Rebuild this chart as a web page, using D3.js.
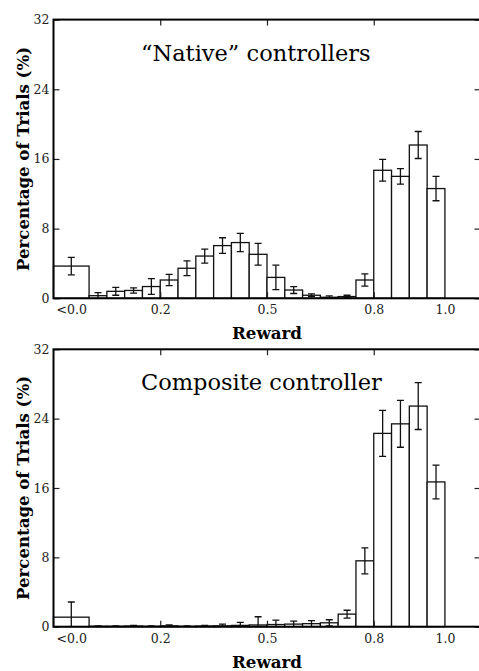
<!DOCTYPE html>
<html>
<head>
<meta charset="utf-8">
<script src="https://cdn.jsdelivr.net/npm/d3@7"></script>
<style>
  body { margin: 0; background: #fff; }
  svg { display: block; }
</style>
</head>
<body>
<div id="vis"></div>
<script>
const FRAME_WIDTH = 479;
const FRAME_HEIGHT = 671;
const SERIF = "DejaVu Serif";

// bins of the reward histogram (lower and upper edge), first bin is the "<0.0" bucket
const BIN_LO = [-0.1, 0.00, 0.05, 0.10, 0.15, 0.20, 0.25, 0.30, 0.35, 0.40, 0.45,
                0.50, 0.55, 0.60, 0.65, 0.70, 0.75, 0.80, 0.85, 0.90, 0.95];
const BIN_HI = [0.00, 0.05, 0.10, 0.15, 0.20, 0.25, 0.30, 0.35, 0.40, 0.45, 0.50,
                0.55, 0.60, 0.65, 0.70, 0.75, 0.80, 0.85, 0.90, 0.95, 1.00];

// "Native" controllers (percentage of trials and error)
const NATIVE_PCT = [3.7, 0.3, 0.8, 0.9, 1.35, 2.1, 3.45, 4.85, 6.05, 6.4, 5.05,
                    2.4, 0.95, 0.35, 0.12, 0.2, 2.1, 14.7, 14.0, 17.6, 12.6];
const NATIVE_ERR = [1.0, 0.35, 0.45, 0.3, 0.9, 0.65, 0.85, 0.8, 0.9, 1.05, 1.25,
                    1.4, 0.4, 0.15, 0.15, 0.15, 0.7, 1.25, 0.9, 1.55, 1.4];

// Composite controller
const COMPOSITE_PCT = [1.1, 0.05, 0.05, 0.08, 0.05, 0.1, 0.05, 0.08, 0.1, 0.15, 0.2,
                       0.25, 0.3, 0.35, 0.45, 1.45, 7.6, 22.3, 23.4, 25.45, 16.7];
const COMPOSITE_ERR = [1.75, 0.05, 0.05, 0.08, 0.05, 0.1, 0.05, 0.08, 0.2, 0.35, 0.95,
                       0.5, 0.35, 0.35, 0.35, 0.45, 1.5, 2.65, 2.7, 2.7, 1.95];

const X_LABEL_POS = [-0.05, 0.2, 0.5, 0.8, 1.0];
const X_LABELS = ["<0.0", "0.2", "0.5", "0.8", "1.0"];
const X_TICKS = [0.2, 0.5, 0.8];
const Y_TICKS = [0, 8, 16, 24, 32];

const MARGINS = {left: 53.5, right: 480.5};

const FRAME = d3.select("#vis")
                .append("svg")
                  .attr("width", FRAME_WIDTH)
                  .attr("height", FRAME_HEIGHT);

const X_SCALE = d3.scaleLinear()
                  .domain([-0.1, 1.1])
                  .range([MARGINS.left, MARGINS.right]);

function drawPanel(id, top, bottom, pct, err, title, titleY) {
  const data = BIN_LO.map((lo, i) => ({lo: lo, hi: BIN_HI[i], pct: pct[i], err: err[i]}));

  const Y_SCALE = d3.scaleLinear()
                    .domain([0, 32])
                    .range([bottom, top]);

  FRAME.append("clipPath")
      .attr("id", "clip-" + id)
    .append("rect")
      .attr("x", MARGINS.left)
      .attr("y", top)
      .attr("width", MARGINS.right - MARGINS.left)
      .attr("height", bottom - top);

  const g = FRAME.append("g").attr("font-family", SERIF);

  // bars
  g.selectAll("rect.bar")
      .data(data)
      .enter()
      .append("rect")
        .attr("class", "bar")
        .attr("x", d => X_SCALE(d.lo))
        .attr("y", d => Y_SCALE(d.pct))
        .attr("width", d => X_SCALE(d.hi) - X_SCALE(d.lo))
        .attr("height", d => Y_SCALE(0) - Y_SCALE(d.pct))
        .attr("fill", "white")
        .attr("stroke", "#111")
        .attr("stroke-width", 1.3);

  // error bars
  const eb = g.append("g")
      .attr("clip-path", "url(#clip-" + id + ")")
      .attr("stroke", "#111")
      .attr("stroke-width", 1.3);

  data.forEach(d => {
    const cx = X_SCALE((d.lo + d.hi) / 2);
    const y1 = Y_SCALE(d.pct + d.err);
    const y0 = Y_SCALE(d.pct - d.err);
    eb.append("line").attr("x1", cx).attr("x2", cx).attr("y1", y1).attr("y2", y0);
    eb.append("line").attr("x1", cx - 3.5).attr("x2", cx + 3.5).attr("y1", y1).attr("y2", y1);
    eb.append("line").attr("x1", cx - 3.5).attr("x2", cx + 3.5).attr("y1", y0).attr("y2", y0);
  });

  // y axis, ticks pointing inward
  g.append("g")
      .attr("transform", "translate(" + MARGINS.left + ",0)")
      .call(d3.axisLeft(Y_SCALE).tickValues(Y_TICKS).tickSize(-6).tickSizeOuter(0).tickPadding(4))
      .attr("font-size", 12.5)
      .attr("font-family", SERIF)
      .call(a => a.select(".domain").remove());

  g.append("g")
      .attr("transform", "translate(" + MARGINS.right + ",0)")
      .call(d3.axisRight(Y_SCALE).tickValues(Y_TICKS).tickSize(-6).tickSizeOuter(0).tickFormat(""))
      .call(a => a.select(".domain").remove());

  // x axis labels and inward ticks
  g.append("g")
      .attr("transform", "translate(0," + bottom + ")")
      .call(d3.axisBottom(X_SCALE).tickValues(X_LABEL_POS).tickSize(0).tickPadding(7)
              .tickFormat((d, i) => X_LABELS[i]))
      .attr("font-size", 12.5)
      .attr("font-family", SERIF)
      .call(a => a.select(".domain").remove());

  g.append("g")
      .attr("transform", "translate(0," + bottom + ")")
      .call(d3.axisBottom(X_SCALE).tickValues(X_TICKS).tickSize(-6).tickFormat(""))
      .call(a => a.select(".domain").remove());

  g.append("g")
      .attr("transform", "translate(0," + top + ")")
      .call(d3.axisTop(X_SCALE).tickValues(X_TICKS).tickSize(-6).tickFormat(""))
      .call(a => a.select(".domain").remove());

  g.selectAll(".tick text").attr("fill", "#222");
  g.selectAll(".tick line").attr("stroke", "#222").attr("stroke-width", 1.2);

  // frame (right side falls just outside the picture)
  g.append("rect")
      .attr("x", MARGINS.left)
      .attr("y", top)
      .attr("width", MARGINS.right - MARGINS.left)
      .attr("height", bottom - top)
      .attr("fill", "none")
      .attr("stroke", "#000")
      .attr("stroke-width", 2);

  // title inside the plot
  g.append("text")
      .attr("x", 141)
      .attr("y", titleY)
      .attr("font-size", 22.5)
      .text(title);

  // axis labels
  g.append("text")
      .attr("transform", "translate(28.5," + ((top + bottom) / 2) + ") rotate(-90)")
      .attr("text-anchor", "middle")
      .attr("font-size", 16)
      .attr("font-weight", "bold")
      .attr("textLength", 224)
      .attr("lengthAdjust", "spacingAndGlyphs")
      .text("Percentage of Trials (%)");

  g.append("text")
      .attr("x", (MARGINS.left + MARGINS.right) / 2)
      .attr("y", bottom + 41)
      .attr("text-anchor", "middle")
      .attr("font-size", 16.5)
      .attr("font-weight", "bold")
      .attr("textLength", 70)
      .attr("lengthAdjust", "spacingAndGlyphs")
      .text("Reward");
}

drawPanel("native", 19.6, 298.3, NATIVE_PCT, NATIVE_ERR, "\u201CNative\u201D controllers", 61);
drawPanel("composite", 349.3, 626.7, COMPOSITE_PCT, COMPOSITE_ERR, "Composite controller", 390);
</script>
</body>
</html>
